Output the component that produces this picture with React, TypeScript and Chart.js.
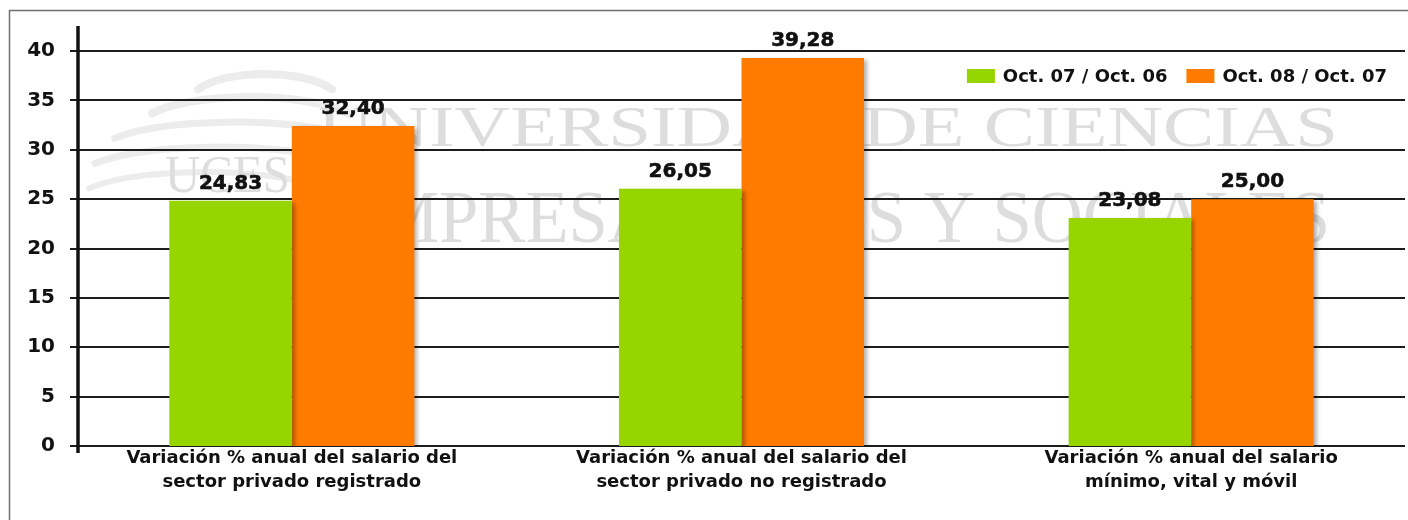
import React, { useEffect, useRef } from "react";
import { Chart, registerables } from "chart.js";

Chart.register(...registerables);

// ---------- data ----------
const categories: string[][] = [
  ["Variación % anual del salario del", "sector privado registrado"],
  ["Variación % anual del salario del", "sector privado no registrado"],
  ["Variación % anual del salario", "mínimo, vital y móvil"],
];
const seriesNames = ["Oct. 07 / Oct. 06", "Oct. 08 / Oct. 07"];
const oct07vsOct06 = [24.83, 26.05, 23.08];
const oct08vsOct07 = [32.4, 39.28, 25.0];
const yMin = 0;
const yMax = 40;
const yStep = 5;
const watermarkLines = ["UNIVERSIDAD DE CIENCIAS", "EMPRESARIALES Y SOCIALES", "UCES"];

// ---------- styles ----------
const GREEN = "#97d500";
const ORANGE = "#ff7b00";
const FONT = "'DejaVu Sans', Verdana, sans-serif";
const SERIF = "'Liberation Serif', 'DejaVu Serif', serif";

const fmt = (v: number) => v.toFixed(2).replace(".", ",");

const backgroundPlugin = {
  id: "bgWatermark",
  beforeDraw(chart: any) {
    const ctx = chart.ctx as CanvasRenderingContext2D;
    ctx.save();
    ctx.fillStyle = "#ffffff";
    ctx.fillRect(0, 0, chart.width, chart.height);

    // faint logo swooshes (flat arcs)
    ctx.strokeStyle = "#ececec";
    ctx.lineCap = "round";
    const arcs = [
      [265, 102, 75, 28, 8],
      [250, 127, 110, 30, 8],
      [235, 152, 135, 30, 7],
      [220, 177, 140, 30, 7],
      [205, 202, 130, 30, 6],
    ];
    for (const [cx, cy, rx, ry, lw] of arcs) {
      ctx.lineWidth = lw;
      ctx.beginPath();
      ctx.ellipse(cx, cy, rx, ry, 0, Math.PI * 1.15, Math.PI * 1.85);
      ctx.stroke();
    }

    // watermark text (stretched to the widths seen in the reference)
    ctx.fillStyle = "#dddddd";
    ctx.textBaseline = "alphabetic";
    ctx.textAlign = "left";
    const drawStretched = (t: string, size: number, x: number, y: number, w: number) => {
      ctx.save();
      ctx.font = `${size}px ${SERIF}`;
      const m = ctx.measureText(t).width;
      ctx.translate(x, y);
      ctx.scale(w / m, 1);
      ctx.fillText(t, 0, 0);
      ctx.restore();
    };
    drawStretched(watermarkLines[0], 56, 318, 146, 1020);
    drawStretched(watermarkLines[1], 74, 333, 242, 997);
    drawStretched(watermarkLines[2], 52, 165, 192, 125);

    // frame
    ctx.strokeStyle = "#707070";
    ctx.lineWidth = 1.5;
    ctx.beginPath();
    ctx.moveTo(9.5, 520);
    ctx.lineTo(9.5, 10.5);
    ctx.lineTo(1408, 10.5);
    ctx.stroke();
    ctx.restore();
  },
};

const gridPlugin = {
  id: "customGrid",
  beforeDatasetsDraw(chart: any) {
    const ctx = chart.ctx as CanvasRenderingContext2D;
    const y = chart.scales.y;
    ctx.save();
    ctx.strokeStyle = "#1c1c1c";
    ctx.lineWidth = 2;
    for (const t of y.ticks) {
      const py = Math.round(y.getPixelForValue(t.value));
      ctx.beginPath();
      ctx.moveTo(70, py);
      ctx.lineTo(1405, py);
      ctx.stroke();
    }
    // y axis line
    ctx.lineWidth = 3.5;
    ctx.strokeStyle = "#111";
    ctx.beginPath();
    ctx.moveTo(78, 26);
    ctx.lineTo(78, y.getPixelForValue(yMin) + 7);
    ctx.stroke();
    ctx.restore();

    // bar shadow
    ctx.shadowColor = "rgba(0,0,0,0.3)";
    ctx.shadowOffsetX = 3;
    ctx.shadowOffsetY = 2;
    ctx.shadowBlur = 4;
  },
  afterDatasetsDraw(chart: any) {
    const ctx = chart.ctx as CanvasRenderingContext2D;
    ctx.shadowColor = "rgba(0,0,0,0)";
    ctx.shadowOffsetX = 0;
    ctx.shadowOffsetY = 0;
    ctx.shadowBlur = 0;
  },
};

const labelsLegendPlugin = {
  id: "labelsLegend",
  afterDraw(chart: any) {
    const ctx = chart.ctx as CanvasRenderingContext2D;
    ctx.save();
    // value labels
    ctx.font = `bold 20px ${FONT}`;
    ctx.fillStyle = "#111";
    ctx.strokeStyle = "#111";
    ctx.lineWidth = 0.6;
    ctx.textAlign = "center";
    ctx.textBaseline = "alphabetic";
    chart.data.datasets.forEach((ds: any, i: number) => {
      const meta = chart.getDatasetMeta(i);
      meta.data.forEach((el: any, j: number) => {
        const t = fmt(ds.data[j]);
        ctx.fillText(t, el.x, el.y - 12);
        ctx.strokeText(t, el.x, el.y - 12);
      });
    });

    // legend
    ctx.font = `bold 18px ${FONT}`;
    ctx.textAlign = "left";
    ctx.textBaseline = "middle";
    const boxW = 28, boxH = 14, gapText = 8, gapItem = 19;
    const widths = chart.data.datasets.map((ds: any) => ctx.measureText(ds.label).width);
    const total = widths.reduce((a: number, w: number) => a + boxW + gapText + w, 0) + gapItem * (widths.length - 1);
    let x = 1387 - total;
    const cy = 76;
    chart.data.datasets.forEach((ds: any, i: number) => {
      ctx.fillStyle = ds.backgroundColor;
      ctx.fillRect(x, cy - boxH / 2, boxW, boxH);
      x += boxW + gapText;
      ctx.fillStyle = "#111";
      ctx.fillText(ds.label, x, cy + 1);
      x += widths[i] + gapItem;
    });
    ctx.restore();
  },
};

export default function App() {
  const ref = useRef<HTMLCanvasElement | null>(null);

  useEffect(() => {
    if (!ref.current) return;
    const chart = new Chart(ref.current, {
      type: "bar",
      data: {
        labels: categories,
        datasets: [
          { label: seriesNames[0], data: oct07vsOct06, backgroundColor: GREEN, borderWidth: 0 },
          { label: seriesNames[1], data: oct08vsOct07, backgroundColor: ORANGE, borderWidth: 0 },
        ],
      },
      options: {
        responsive: false,
        animation: false,
        devicePixelRatio: 1,
        layout: { padding: { top: 51, right: 4, left: 0, bottom: 0 } },
        datasets: { bar: { categoryPercentage: 0.545, barPercentage: 1 } },
        plugins: {
          legend: { display: false },
          tooltip: { enabled: false },
        },
        scales: {
          x: {
            grid: { display: false, drawTicks: false },
            border: { display: false },
            ticks: {
              color: "#111",
              font: { family: FONT, size: 18, weight: "bold", lineHeight: 1.33 },
              padding: 0,
              maxRotation: 0,
              autoSkip: false,
            },
            afterFit: (s: any) => {
              s.height = 74;
            },
          },
          y: {
            min: yMin,
            max: yMax,
            grid: { display: false, drawTicks: false },
            border: { display: false },
            ticks: {
              stepSize: yStep,
              color: "#111",
              font: { family: FONT, size: 20, weight: "bold" },
              padding: 12,
            },
            afterFit: (s: any) => {
              s.width = 67;
            },
          },
        },
      },
      plugins: [backgroundPlugin, gridPlugin, labelsLegendPlugin],
    } as any);
    return () => chart.destroy();
  }, []);

  return (
    <div
      style={{
        position: "fixed",
        left: 0,
        top: 0,
        width: 1408,
        height: 520,
        overflow: "hidden",
        background: "#fff",
      }}
    >
      <canvas ref={ref} width={1420} height={520} style={{ display: "block" }} />
    </div>
  );
}
